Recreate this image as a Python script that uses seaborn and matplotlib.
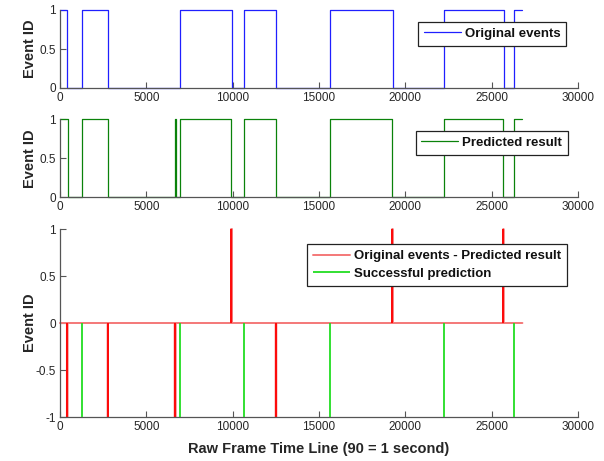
import numpy as np
import pandas as pd
import matplotlib
matplotlib.use("Agg")
import matplotlib.pyplot as plt
import seaborn as sns

# ---------------- data ----------------
orig_x = [0, 400, 1270, 2760, 6930, 9960, 10640, 12490, 15650, 19270, 22230, 25690, 26310, 26780]
orig_y = [1, 0, 1, 0, 1, 0, 1, 0, 1, 0, 1, 0, 1, 1]

pred_x = [0, 440, 1270, 2775, 6640, 6700, 6930, 9910, 10640, 12530, 15650, 19240, 22230, 25670, 26310, 26780]
pred_y = [1, 0, 1, 0, 1, 0, 1, 0, 1, 0, 1, 0, 1, 0, 1, 1]

success_x = [1270, 6930, 10640, 15650, 22230, 26310]

x_ticks = [0, 5000, 10000, 15000, 20000, 25000, 30000]
y_ticks_top = [0, 0.5, 1]
y_ticks_bottom = [-1, -0.5, 0, 0.5, 1]

# derived difference signal (original - predicted) on the frame grid
frames = np.arange(0, orig_x[-1] + 1)
def step_eval(xs, ys, f):
    xs = np.asarray(xs); ys = np.asarray(ys)
    return ys[np.searchsorted(xs, f, side="right") - 1]
diff = step_eval(orig_x, orig_y, frames) - step_eval(pred_x, pred_y, frames)
df_diff = pd.DataFrame({"frame": frames, "diff": diff})
df_orig = pd.DataFrame({"frame": orig_x, "id": orig_y})
df_pred = pd.DataFrame({"frame": pred_x, "id": pred_y})

# ---------------- style ----------------
sns.set_style("white")
plt.rcParams["font.family"] = ["Liberation Sans", "DejaVu Sans"]
plt.rcParams["axes.unicode_minus"] = False
plt.rcParams["xtick.direction"] = "in"
plt.rcParams["ytick.direction"] = "in"

W, H = 604, 461
fig = plt.figure(figsize=(W / 100, H / 100), dpi=100)

def px_axes(left, top, right, bottom):
    return fig.add_axes([left / W, 1 - bottom / H, (right - left) / W, (bottom - top) / H])

ax1 = px_axes(60, 10, 578, 88)
ax2 = px_axes(60, 119.5, 578, 197)
ax3 = px_axes(60, 229, 578, 417)

spine_col = "#555555"
text_col = "#262626"

def style(ax, yticks, ylim):
    ax.set_xlim(0, 30000)
    ax.set_ylim(*ylim)
    ax.set_xticks(x_ticks)
    ax.set_yticks(yticks)
    ax.set_xticklabels([str(t) for t in x_ticks])
    ax.set_yticklabels([("%g" % t) for t in yticks])
    for s in ["top", "right"]:
        ax.spines[s].set_visible(False)
    for s in ["left", "bottom"]:
        ax.spines[s].set_color(spine_col)
        ax.spines[s].set_linewidth(0.9)
    ax.tick_params(axis="both", which="both", length=4, width=0.8, color=spine_col,
                   labelsize=8.5, labelcolor=text_col, pad=3,
                   bottom=True, left=True)
    ax.set_xlabel("")
    ax.set_ylabel("Event ID", fontsize=10.5, fontweight="bold", color=text_col)
    ax.yaxis.set_label_coords(-0.045, 0.5)

def legend(ax, anchor):
    leg = ax.legend(loc="upper right", bbox_to_anchor=anchor, frameon=True,
                    fancybox=False, framealpha=1, edgecolor="#222222",
                    prop={"size": 9.5, "weight": "bold"}, handlelength=2.8,
                    handletextpad=0.3, borderpad=0.45, labelspacing=0.4,
                    borderaxespad=0)
    leg.get_frame().set_linewidth(0.9)
    for t in leg.get_texts():
        t.set_color("#111111")
    return leg

# top: original events
sns.lineplot(data=df_orig, x="frame", y="id", ax=ax1, color="#1f1fff", lw=0.9,
             drawstyle="steps-post", estimator=None, sort=False,
             label="Original events", clip_on=False)
style(ax1, y_ticks_top, (0, 1))
legend(ax1, (0.977, 0.85))

# middle: predicted result
sns.lineplot(data=df_pred, x="frame", y="id", ax=ax2, color="#0a820a", lw=0.9,
             drawstyle="steps-post", estimator=None, sort=False,
             label="Predicted result", clip_on=False)
style(ax2, y_ticks_top, (0, 1))
legend(ax2, (0.981, 0.855))

# bottom: difference and successful predictions
sns.lineplot(data=df_diff, x="frame", y="diff", ax=ax3, color="#f47878", lw=1.4,
             drawstyle="steps-post", estimator=None, sort=False,
             label="Original events - Predicted result", clip_on=False)
d = df_diff["diff"].to_numpy()
starts = np.nonzero((d != 0) & (np.r_[0, d[:-1]] == 0))[0]
ax3.vlines(df_diff["frame"].to_numpy()[starts], 0, d[starts], color="#ff0000",
           lw=1.3, clip_on=False)
ax3.vlines(success_x, -1, 0, color="#22dd22", lw=1.3,
           label="Successful prediction", clip_on=False, zorder=3)
style(ax3, y_ticks_bottom, (-1, 1))
ax3.set_xlabel("Raw Frame Time Line (90 = 1 second)", fontsize=10.5,
               fontweight="bold", color=text_col, labelpad=6)
legend(ax3, (0.979, 0.92))

fig.savefig("out.png", dpi=100)
